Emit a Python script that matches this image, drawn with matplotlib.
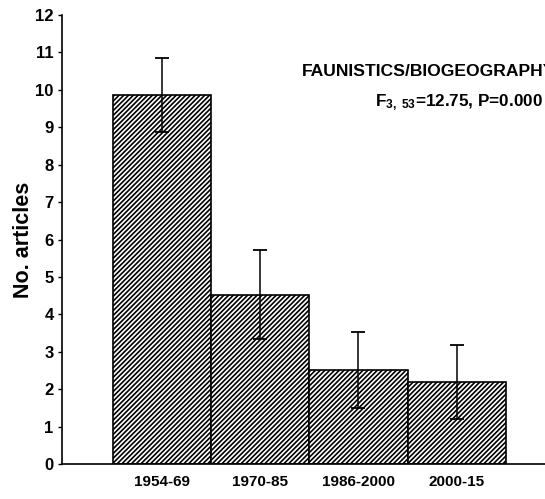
import matplotlib
matplotlib.use("Agg")
import matplotlib.pyplot as plt

# Dados
periodos = ["1954-69", "1970-85", "1986-2000", "2000-15"]
media = [9.86, 4.52, 2.51, 2.19]
erro = [0.99, 1.19, 1.02, 1.0]

plt.rcParams['font.family'] = ['Liberation Sans', 'DejaVu Sans']
plt.rcParams['font.weight'] = 'bold'
plt.rcParams['mathtext.fontset'] = 'custom'
plt.rcParams['mathtext.rm'] = 'Liberation Sans:bold'
plt.rcParams['mathtext.it'] = 'Liberation Sans:bold'
plt.rcParams['mathtext.bf'] = 'Liberation Sans:bold'
plt.rcParams['hatch.linewidth'] = 1.2

fig = plt.figure(figsize=(5.45, 4.99), dpi=100)
ax = fig.add_axes([62/545, 35/499, 483/545, 449/499])

x = list(range(len(periodos)))
ax.bar(x, media, width=1.0, color='white', edgecolor='black', hatch='///////',
       linewidth=1.2, zorder=2)
ax.errorbar(x, media, yerr=erro, fmt='none', ecolor='black', elinewidth=1.1,
            capsize=5, capthick=1.3, zorder=3)

ax.set_xlim(-1.02, 3.9)
ax.set_ylim(0, 12)
ax.set_yticks(range(0, 13))
ax.set_yticklabels([str(v) for v in range(0, 13)], fontsize=12, fontweight='bold')
ax.set_xticks(x)
ax.set_xticklabels(periodos, fontsize=11, fontweight='bold')
ax.tick_params(axis='y', direction='out', length=3, width=1, pad=3)
ax.tick_params(axis='x', length=0, pad=8)
ax.spines['top'].set_visible(False)
ax.spines['right'].set_visible(False)
ax.spines['left'].set_linewidth(1.2)
ax.spines['bottom'].set_linewidth(1.2)
ax.set_ylabel("No. articles", fontsize=15.5, fontweight='bold', labelpad=0.5)

fig.text(302/545, 1 - 71/499, "FAUNISTICS/BIOGEOGRAPHY", fontsize=12.6,
         fontweight='bold', ha='left', va='center')
fig.text(543/545, 1 - 103/499, r"F$_{3,\ 53}$=12.75, P=0.000", fontsize=12.3,
         fontweight='bold', ha='right', va='center')

fig.savefig("out.png", dpi=100)
